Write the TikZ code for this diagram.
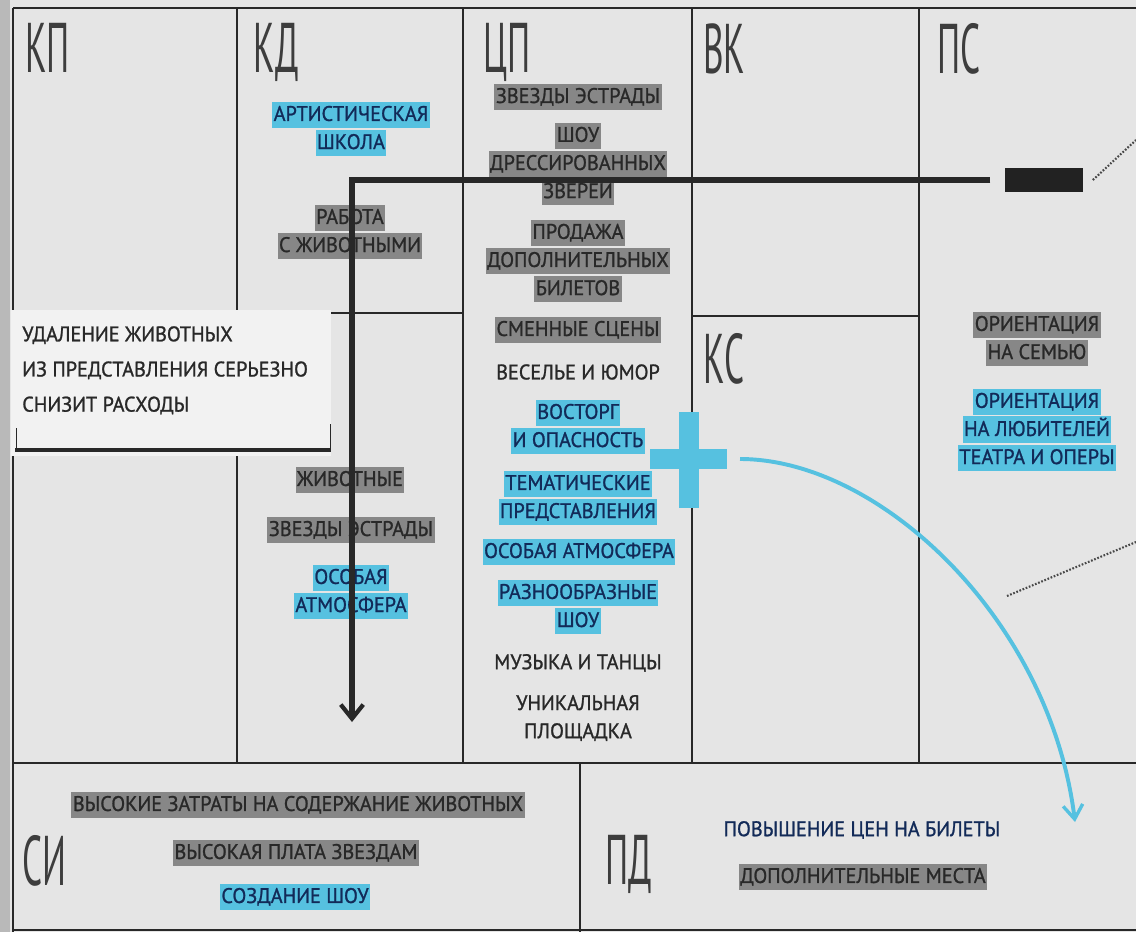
\documentclass[tikz,border=0pt]{standalone}
\usepackage{fontspec}
\usetikzlibrary{arrows.meta}
\setmainfont[FakeStretch=0.96, FakeBold=1.1]{PT Sans}
\newfontfamily\headfont[FakeStretch=0.5]{PT Sans}
\definecolor{paper}{RGB}{229,229,229}
\definecolor{notepaper}{RGB}{242,242,242}
\definecolor{ink}{RGB}{40,40,40}
\definecolor{hlgray}{RGB}{135,135,135}
\definecolor{hlblue}{RGB}{86,193,224}
\definecolor{inkblue}{RGB}{18,42,88}
\newcommand{\grayhl}[1]{{\setlength{\fboxsep}{1pt}\colorbox{hlgray}{\rule[-4pt]{0pt}{16.5pt}#1}}}
\newcommand{\bluehl}[1]{{\setlength{\fboxsep}{1pt}\colorbox{hlblue}{\rule[-4pt]{0pt}{16.5pt}\color{inkblue}#1}}}

\begin{document}
\begin{tikzpicture}[x=0.025cm, y=-0.025cm,
    grid/.style={draw=ink, line width=0.8pt},
    head/.style={anchor=north west, inner sep=0pt, text=ink!90,
      font=\headfont\fontsize{50}{50}\selectfont},
    item/.style={align=center, inner sep=0pt, text=ink,
      font=\fontsize{15}{20}\selectfont},
    bigarrow/.style={draw=ink, line width=3.6pt,
      -{Straight Barb[length=10pt, width=16pt, line width=3pt]}},
    bluearrow/.style={draw=hlblue, line width=2.8pt,
      -{Straight Barb[length=10pt, width=14pt, line width=2.4pt]}},
    dotline/.style={draw=ink!85, line width=1.5pt, dash pattern=on 1.2pt off 1.2pt}]
   \useasboundingbox (0,0) rectangle (1136,932);
   \fill[paper] (0,0) rectangle (1136,932);
   \fill[gray!55] (0,0) rectangle (10,932);

   % canvas lines
   \draw[grid] (13,8) -- (1136,8);
   \draw[grid] (13,8) -- (13,932);
   \draw[grid] (237,8) -- (237,763);
   \draw[grid] (463,8) -- (463,763);
   \draw[grid] (692,8) -- (692,763);
   \draw[grid] (919,8) -- (919,763);
   \draw[grid] (237,313) -- (463,313);
   \draw[grid] (692,316) -- (919,316);
   \draw[grid, line width=1.6pt] (13,763) -- (1136,763);
   \draw[grid] (580,763) -- (580,932);
   \draw[grid] (13,930) -- (1136,930);

   % block titles
   \node[head] (kp) at (25,23) {КП};
   \node[head] (kd) at (253,23) {КД};
   \node[head] (cp) at (483,23) {ЦП};
   \node[head] (vk) at (703,23) {ВК};
   \node[head] (ps) at (937,23) {ПС};
   \node[head] (ks) at (703,333) {КС};
   \node[head] (si) at (22,835) {СИ};
   \node[head] (pd) at (605,835) {ПД};

   % key activities and resources
   \node[item] (school) at (351,129) {\bluehl{АРТИСТИЧЕСКАЯ}\\\bluehl{ШКОЛА}};
   \node[item] (animalwork) at (350,232) {\grayhl{РАБОТА}\\\grayhl{С ЖИВОТНЫМИ}};
   \node[item] (animals) at (350,480) {\grayhl{ЖИВОТНЫЕ}};
   \node[item] (stars) at (351,530) {\grayhl{ЗВЕЗДЫ ЭСТРАДЫ}};
   \node[item] (atmos) at (351,592) {\bluehl{ОСОБАЯ}\\\bluehl{АТМОСФЕРА}};

   % value proposition
   \node[item] (cpstars) at (578,97) {\grayhl{ЗВЕЗДЫ ЭСТРАДЫ}};
   \node[item] (cpshow) at (578,164) {\grayhl{ШОУ}\\\grayhl{ДРЕССИРОВАННЫХ}\\\grayhl{ЗВЕРЕЙ}};
   \node[item] (cptickets) at (578,261) {\grayhl{ПРОДАЖА}\\\grayhl{ДОПОЛНИТЕЛЬНЫХ}\\\grayhl{БИЛЕТОВ}};
   \node[item] (cpscenes) at (578,330) {\grayhl{СМЕННЫЕ СЦЕНЫ}};
   \node[item] (cpfun) at (578,372) {ВЕСЕЛЬЕ И ЮМОР};
   \node[item] (cpthrill) at (578,427) {\bluehl{ВОСТОРГ}\\\bluehl{И ОПАСНОСТЬ}};
   \node[item] (cpthemes) at (578,498) {\bluehl{ТЕМАТИЧЕСКИЕ}\\\bluehl{ПРЕДСТАВЛЕНИЯ}};
   \node[item] (cpatmos) at (579,552) {\bluehl{ОСОБАЯ АТМОСФЕРА}};
   \node[item] (cpvariety) at (578,607) {\bluehl{РАЗНООБРАЗНЫЕ}\\\bluehl{ШОУ}};
   \node[item] (cpmusic) at (578,663) {МУЗЫКА И ТАНЦЫ};
   \node[item] (cpvenue) at (578,718) {УНИКАЛЬНАЯ\\ПЛОЩАДКА};

   % customer segments
   \node[item] (family) at (1037,339) {\grayhl{ОРИЕНТАЦИЯ}\\\grayhl{НА СЕМЬЮ}};
   \node[item] (theatre) at (1037,430) {\bluehl{ОРИЕНТАЦИЯ}\\\bluehl{НА ЛЮБИТЕЛЕЙ}\\\bluehl{ТЕАТРА И ОПЕРЫ}};

   % costs and revenue
   \node[item] (cost1) at (298,805) {\grayhl{ВЫСОКИЕ ЗАТРАТЫ НА СОДЕРЖАНИЕ ЖИВОТНЫХ}};
   \node[item] (cost2) at (296,853) {\grayhl{ВЫСОКАЯ ПЛАТА ЗВЕЗДАМ}};
   \node[item] (cost3) at (295,897) {\bluehl{СОЗДАНИЕ ШОУ}};
   \node[item, text=inkblue] (rev1) at (862,830) {ПОВЫШЕНИЕ ЦЕН НА БИЛЕТЫ};
   \node[item] (rev2) at (863,877) {\grayhl{ДОПОЛНИТЕЛЬНЫЕ МЕСТА}};

   % the note over the left blocks
   \fill[notepaper] (11,310) rectangle (331,456);
   \node[anchor=north west, align=left, inner sep=0pt, text=ink,
     font=\fontsize{15}{25}\selectfont] (note) at (22,326)
     {УДАЛЕНИЕ ЖИВОТНЫХ\\ИЗ ПРЕДСТАВЛЕНИЯ СЕРЬЕЗНО\\СНИЗИТ РАСХОДЫ};
   \draw[ink, line width=3.4pt] (15,450) -- (331,450);
   \draw[ink, line width=0.6pt] (16,428) -- (16,450);
   \draw[ink, line width=0.6pt] (330,424) -- (330,450);

   % black marker and arrow
   \node[fill=ink!85!black, minimum width=1.93cm, minimum height=0.6cm,
     inner sep=0pt] (mark) at (1044,180) {};
   \coordinate (tip) at (352,722);
   \draw[bigarrow] ([xshift=-0.37cm]mark.west) -| (tip);
   \coordinate (dotA) at (1136,140);
   \draw[dotline] ([xshift=0.25cm]mark.east) -- (dotA);
   \coordinate (dotB) at (1007,596);
   \coordinate (dotC) at (1136,542);
   \draw[dotline] (dotB) -- (dotC);

   % blue plus and curved arrow
   \fill[hlblue] (679,412) rectangle (699,508);
   \fill[hlblue] (650,449) rectangle (727,469);
   \coordinate (arcstart) at (740,459);
   \coordinate (arcend) at (1075,822);
   \draw[bluearrow] (arcstart) .. controls (880,459) and (1050,620) .. (arcend);
\end{tikzpicture}
\end{document}
